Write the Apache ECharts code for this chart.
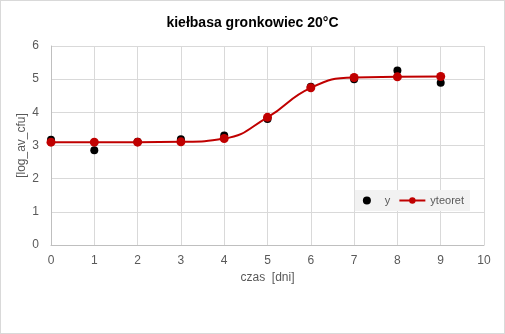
<!DOCTYPE html>
<html>
<head>
<meta charset="UTF-8">
<script src="https://cdn.jsdelivr.net/npm/echarts@6/dist/echarts.min.js"></script>
<style>
  html, body { margin: 0; padding: 0; background: #fff; }
  #chart { width: 503px; height: 332px; border: 1px solid #d9d9d9; }
</style>
</head>
<body>
<div id="chart"></div>
<script>
const days = [0, 1, 2, 3, 4, 5, 6, 7, 8, 9];
const yMeasured = [3.17, 2.86, 3.11, 3.19, 3.30, 3.80, 4.77, 5.00, 5.26, 4.89];
const yTheory = [3.10, 3.10, 3.10, 3.11, 3.21, 3.85, 4.74, 5.05, 5.07, 5.08];

const chart = echarts.init(document.getElementById('chart'));
const tickFont = { color: '#595959', fontSize: 12, fontFamily: 'Liberation Sans Narrow, Arial Narrow, Liberation Sans, sans-serif' };
const gridLine = { lineStyle: { color: '#d9d9d9', width: 1 } };

chart.setOption({
  animation: false,
  title: {
    text: 'kiełbasa gronkowiec 20°C',
    left: 'center', top: 10,
    textStyle: { fontFamily: 'Liberation Sans, Arial, sans-serif', fontSize: 14, fontWeight: 'bold', color: '#000' }
  },
  grid: { left: 50, right: 20, top: 45, bottom: 88 },
  legend: {
    right: 34, top: 189,
    backgroundColor: '#f2f2f2',
    padding: [5, 6, 5, 8],
    itemGap: 8,
    itemWidth: 26, itemHeight: 8,
    textStyle: { color: '#595959', fontSize: 11, fontFamily: 'Liberation Sans Narrow, Arial Narrow, Liberation Sans, sans-serif' },
    data: ['y', 'yteoret']
  },
  xAxis: {
    type: 'value', min: 0, max: 10, interval: 1,
    name: 'czas  [dni]', nameLocation: 'middle', nameGap: 27,
    nameTextStyle: tickFont,
    axisLine: { show: true, lineStyle: { color: '#bfbfbf' } },
    axisTick: { show: false },
    axisLabel: Object.assign({ margin: 10 }, tickFont),
    splitLine: gridLine
  },
  yAxis: {
    type: 'value', min: 0, max: 6, interval: 1,
    name: '[log_av_cfu]', nameLocation: 'middle', nameGap: 23,
    nameMoveOverlap: false,
    nameTextStyle: tickFont,
    axisLine: { show: true, lineStyle: { color: '#bfbfbf' } },
    axisTick: { show: false },
    axisLabel: Object.assign({ margin: 12 }, tickFont),
    splitLine: gridLine
  },
  series: [
    {
      name: 'yteoret', type: 'line', smooth: 0.5,
      data: days.map((d, i) => [d, yTheory[i]]),
      symbol: 'circle', symbolSize: 9,
      lineStyle: { color: '#c00000', width: 2 },
      itemStyle: { color: '#c00000', opacity: 1 }
    },
    {
      name: 'y', type: 'scatter',
      data: days.map((d, i) => [d, yMeasured[i]]),
      symbol: 'circle', symbolSize: 8,
      itemStyle: { color: '#000', opacity: 1 }
    }
  ]
});
</script>
</body>
</html>
